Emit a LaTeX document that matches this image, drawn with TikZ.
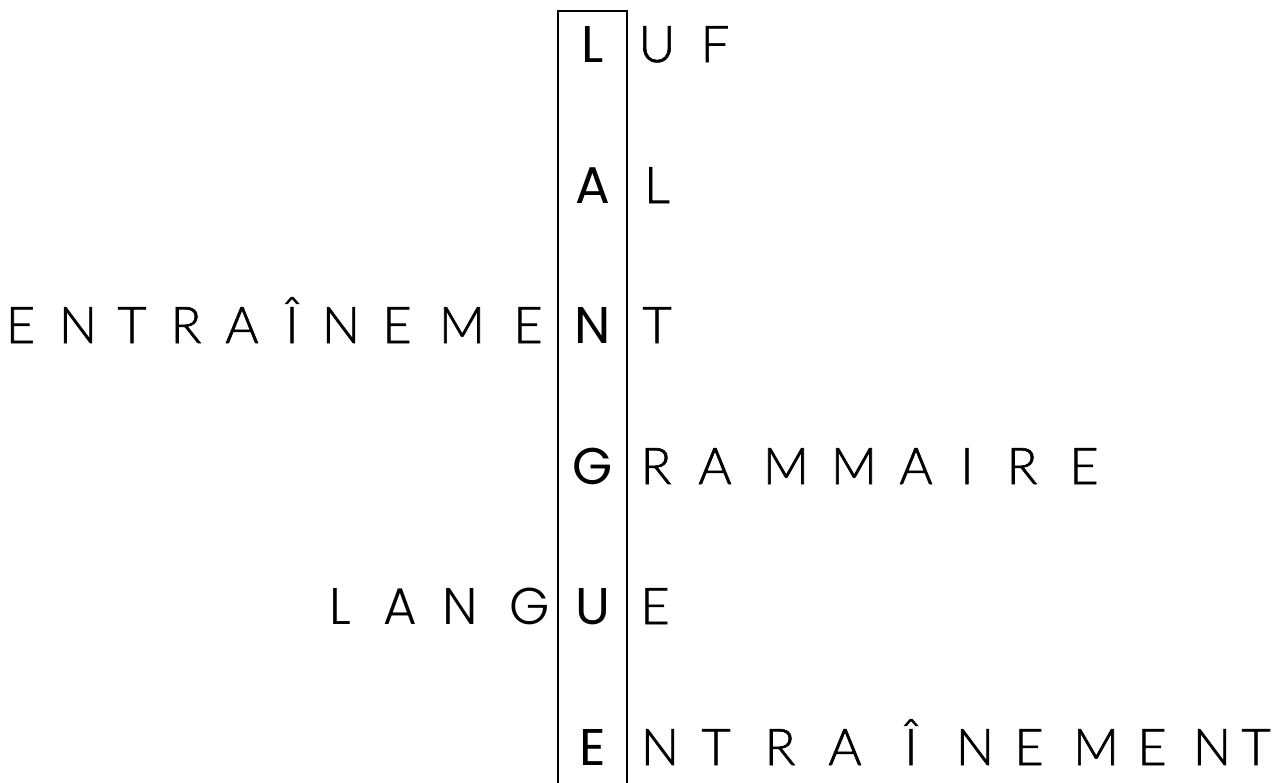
\documentclass[tikz,border=0pt]{standalone}
\usepackage{fontspec}
\setmainfont{Lato Light}[FakeBold=1.2,AutoFakeBold=0]
\newfontfamily\geo{Poppins}
\newfontfamily\geolight{Poppins Light}
\begin{document}
\begin{tikzpicture}[x=0.75pt,y=-0.75pt,
  ltr/.style={anchor=base, inner sep=0pt, font=\fontsize{38}{40}\selectfont},
  geoltr/.style={anchor=base, inner sep=0pt, font=\geolight\fontsize{38.7}{40}\selectfont},
  boxltr/.style={anchor=base, inner sep=0pt, font=\geo\fontsize{38.7}{40}\selectfont},
  frame/.style={line width=1.5pt}]
\useasboundingbox (0,0) rectangle (1281,782);
\draw[frame] (558,800) -- (558,11) -- (627,11) -- (627,800);
% letters inside the box
\foreach \ch/\yy [count=\i] in {L/62,A/203,N/343,G/484,U/624,E/765}
  \node[boxltr] (c\i) at (592.5,\yy) {\ch};
% row 1
\foreach \ch/\xx [count=\i] in {U/657,F/715}
  \node[ltr] (ra\i) at (\xx,62) {\ch};
% row 2
\node[ltr] (rb1) at (657,203) {L};
% row 3
\foreach \ch/\xx [count=\i] in {E/20.5,N/78,T/132,R/186,A/242,Î/292,N/341,E/397,M/462,E/528}
  \node[ltr] (lc\i) at (\xx,343) {\ch};
\node[ltr] (rc1) at (657,343) {T};
% row 4
\foreach \ch/\xx [count=\i] in {R/656,A/715,M/786,M/854,A/916,I/967,R/1022,E/1084}
  \node[ltr] (rd\i) at (\xx,484) {\ch};
% row 5
\foreach \ch/\xx [count=\i] in {L/340,A/400,N/460,G/530}
  \node[geoltr] (le\i) at (\xx,624) {\ch};
\node[ltr] (re1) at (655,624) {E};
% row 6
\foreach \ch/\xx [count=\i] in {N/660,T/716,R/780,A/845,Î/911,N/975,E/1029,M/1096,E/1152,N/1212,T/1256}
  \node[ltr] (rf\i) at (\xx,765) {\ch};
\end{tikzpicture}
\end{document}
